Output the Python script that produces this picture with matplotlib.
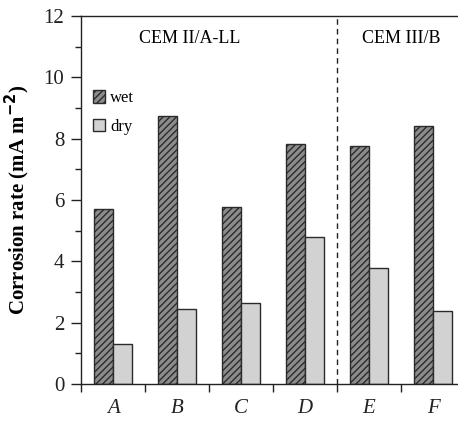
import numpy as np
import matplotlib

matplotlib.use("Agg")
import matplotlib.pyplot as plt
from matplotlib.ticker import MultipleLocator, FixedLocator, NullFormatter

plt.rcParams["font.family"] = ["Liberation Serif", "DejaVu Serif"]
plt.rcParams["hatch.linewidth"] = 1.0
plt.rcParams["hatch.color"] = "#3a3a3a"

mixes = ["A", "B", "C", "D", "E", "F"]
wet = [5.72, 8.73, 5.78, 7.83, 7.76, 8.43]
dry = [1.29, 2.46, 2.63, 4.78, 3.78, 2.37]

fig = plt.figure(figsize=(4.58, 4.21), dpi=100)
ax = fig.add_axes([0.1769, 0.0879, 0.8231, 0.874])

x = np.arange(len(mixes))
w = 0.29
ax.bar(x - w / 2, wet, w, color="#8c8c8c", edgecolor="#2b2b2b", linewidth=1.0,
       hatch="/////", label="wet")
ax.bar(x + w / 2, dry, w, color="#d2d2d2", edgecolor="#2b2b2b", linewidth=1.0,
       label="dry")

ax.axvline(3.5, color="#222222", linestyle=(0, (4, 3)), linewidth=1.0)

ax.set_xlim(-0.5, 5.39)
ax.set_ylim(0, 12)

ax.spines["right"].set_visible(False)
for s in ["left", "bottom", "top"]:
    ax.spines[s].set_linewidth(1.0)
    ax.spines[s].set_color("#222222")

ax.yaxis.set_major_locator(MultipleLocator(2))
ax.yaxis.set_minor_locator(MultipleLocator(1))
ax.tick_params(axis="y", which="major", direction="out", length=7, width=1,
               labelsize=15, pad=5, colors="#222222")
ax.tick_params(axis="y", which="minor", direction="out", length=4, width=1,
               colors="#222222")

# group boundaries carry the tick marks, group centres carry the labels
ax.xaxis.set_major_locator(FixedLocator(np.arange(-0.5, 5.6, 1.0)))
ax.xaxis.set_major_formatter(NullFormatter())
ax.xaxis.set_minor_locator(FixedLocator(x))
ax.set_xticklabels(mixes, minor=True, fontstyle="italic")
ax.tick_params(axis="x", which="major", direction="out", length=6, width=1,
               colors="#222222")
ax.tick_params(axis="x", which="minor", length=0, pad=11, labelsize=15,
               colors="#222222")

ax.set_ylabel("Corrosion rate (mA m$^{\\mathbf{-2}}$)", fontsize=15,
              fontweight="bold", labelpad=8)

ax.text(1.2, 11.28, "CEM II/A-LL", ha="center", va="center", fontsize=13)
ax.text(4.5, 11.28, "CEM III/B", ha="center", va="center", fontsize=13)

ax.legend(loc="upper left", bbox_to_anchor=(0.0, 0.83), frameon=False,
          handlelength=0.75, handleheight=0.75, handletextpad=0.3,
          labelspacing=0.75, fontsize=12, borderaxespad=0.3)

fig.savefig("out.png", dpi=100)
